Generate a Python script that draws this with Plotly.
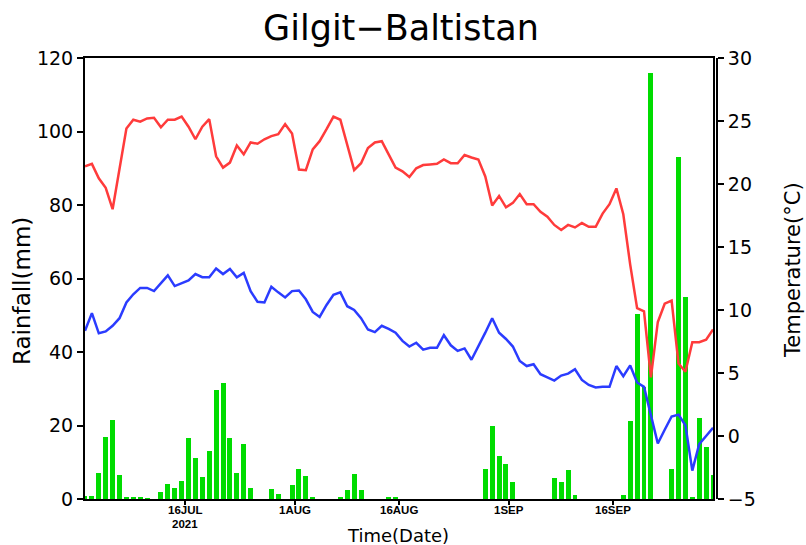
import pandas as pd
import plotly.graph_objects as go

start_date = "2021-07-01 12:00"
n_days = 92

rainfall = [0.8, 0.8, 7.0, 17.0, 21.4, 6.5, 0.3, 0.3, 0.3, 0.1,
            0.0, 1.8, 4.1, 3.0, 4.8, 16.5, 11.2, 5.9, 13.0, 29.6,
            31.6, 16.5, 7.0, 15.1, 3.0, 0.0, 0.0, 2.7, 1.4, 0.0,
            3.8, 8.3, 6.3, 0.5, 0.0, 0.0, 0.0, 0.5, 2.4, 6.7,
            2.4, 0.0, 0.0, 0.0, 0.5, 0.5, 0.0, 0.0, 0.0, 0.0,
            0.0, 0.0, 0.0, 0.0, 0.0, 0.0, 0.0, 0.0, 8.1, 20.0,
            11.8, 9.4, 4.5, 0.0, 0.0, 0.0, 0.0, 0.0, 5.6, 4.5,
            7.9, 1.2, 0.0, 0.0, 0.0, 0.0, 0.0, 0.0, 1.2, 21.1,
            50.4, 30.6, 115.8, 0.0, 0.0, 8.3, 93.0, 55.0, 0.5, 22.0,
            14.1, 6.4]

tmax = [21.4, 21.6, 20.45, 19.7, 18.0, 21.1, 24.4, 25.1, 24.95, 25.2,
        25.25, 24.5, 25.1, 25.1, 25.35, 24.55, 23.55, 24.55, 25.15, 22.2,
        21.3, 21.7, 23.05, 22.35, 23.3, 23.2, 23.55, 23.8, 23.95, 24.75,
        24.0, 21.15, 21.1, 22.75, 23.4, 24.35, 25.35, 25.1, 23.05, 21.1,
        21.65, 22.85, 23.3, 23.4, 22.35, 21.3, 21.0, 20.55, 21.25, 21.5,
        21.55, 21.6, 21.95, 21.65, 21.65, 22.3, 22.1, 21.95, 20.6, 18.3,
        19.05, 18.15, 18.5, 19.2, 18.4, 18.4, 17.8, 17.4, 16.75, 16.35,
        16.75, 16.55, 16.9, 16.6, 16.6, 17.65, 18.4, 19.65, 17.6, 13.6,
        10.15, 9.9, 4.65, 9.05, 10.5, 10.75, 5.75, 5.1, 7.45, 7.45,
        7.65, 8.45]

tmin = [8.35, 9.75, 8.15, 8.3, 8.75, 9.35, 10.6, 11.25, 11.75, 11.75,
        11.5, 12.15, 12.75, 11.9, 12.15, 12.35, 12.85, 12.6, 12.6, 13.3,
        12.85, 13.25, 12.6, 12.95, 11.5, 10.65, 10.6, 11.85, 11.4, 11.0,
        11.5, 11.55, 10.85, 9.85, 9.45, 10.4, 11.2, 11.4, 10.3, 10.0,
        9.35, 8.45, 8.25, 8.75, 8.5, 8.2, 7.55, 7.1, 7.4, 6.85,
        7.0, 7.0, 8.0, 7.2, 6.75, 6.95, 6.05, 7.1, 8.2, 9.35,
        8.2, 7.7, 7.1, 5.95, 5.55, 5.7, 4.9, 4.65, 4.4, 4.8,
        4.95, 5.3, 4.45, 4.05, 3.85, 3.9, 3.9, 5.55, 4.75, 5.6,
        4.25, 3.9, 1.75, -0.6, 0.5, 1.55, 1.7, 0.85, -2.75, -0.65,
        0.0, 0.65]

tick_dates = ["2021-07-16", "2021-08-01", "2021-08-16", "2021-09-01", "2021-09-16"]
tick_labels = ["16JUL", "1AUG", "16AUG", "1SEP", "16SEP"]
year_label = "2021"
rain_ticks = [0, 20, 40, 60, 80, 100, 120]
temp_ticks = [-5, 0, 5, 10, 15, 20, 25, 30]

dates = pd.date_range(start_date, periods=n_days, freq="D")
x_range = [dates[0], dates[-1]]

FONT = "DejaVu Sans"
W, H = 806, 545
ML, MR, MT, MB = 85, 89, 58, 46
PH = H - MT - MB


def py(px):
    """pixel y (from top) -> paper y"""
    return (H - MB - px) / PH


def px_x(px):
    """pixel x (from left) -> paper x"""
    return (px - ML) / (W - ML - MR)


fig = go.Figure()
fig.add_trace(go.Bar(x=dates, y=rainfall, marker=dict(color="#00dc00", line=dict(width=0)),
                     width=0.72 * 86400000, yaxis="y", showlegend=False))
fig.add_trace(go.Scatter(x=dates, y=tmax, mode="lines", line=dict(color="#ff3b3b", width=2.5),
                         yaxis="y2", showlegend=False))
fig.add_trace(go.Scatter(x=dates, y=tmin, mode="lines", line=dict(color="#2b3cff", width=2.5),
                         yaxis="y2", showlegend=False))

tick_font = dict(family="Liberation Sans", size=11.5, color="black", weight="bold")
for d, lab in zip(tick_dates, tick_labels):
    fig.add_annotation(x=d, xref="x", y=py(510), yref="paper", text=lab, showarrow=False,
                       xanchor="center", yanchor="middle", borderpad=0, font=tick_font)
fig.add_annotation(x=tick_dates[0], xref="x", y=py(524), yref="paper", text=year_label,
                   showarrow=False, xanchor="center", yanchor="middle", borderpad=0, font=tick_font)

title_font = dict(family=FONT, color="black")
fig.add_annotation(x=px_x(398), xref="paper", y=py(535), yref="paper", text="Time(Date)",
                   showarrow=False, xanchor="center", yanchor="middle", font=dict(size=18, **title_font))
fig.add_annotation(x=px_x(22), xref="paper", y=py(291), yref="paper", text="Rainfall(mm)",
                   textangle=-90, showarrow=False, xanchor="center", yanchor="middle",
                   font=dict(size=23, **title_font))
fig.add_annotation(x=px_x(793), xref="paper", y=py(270), yref="paper", text="Temperature(°C)",
                   textangle=-90, showarrow=False, xanchor="center", yanchor="middle",
                   font=dict(size=21, **title_font))

fig.update_layout(
    width=W, height=H,
    margin=dict(l=ML, r=MR, t=MT, b=MB, autoexpand=False),
    paper_bgcolor="white", plot_bgcolor="white",
    bargap=0,
    title=dict(text="Gilgit−Baltistan", x=0.5, xref="paper", xanchor="center",
               y=1 - 28 / H, yref="container", yanchor="middle", automargin=False,
               font=dict(family=FONT, size=35, color="black")),
    xaxis=dict(type="date", domain=[0, 0.9937], range=x_range, automargin=False,
               tickvals=tick_dates, ticktext=tick_labels, tickmode="array", showticklabels=False,
               ticks="outside", ticklen=4, tickcolor="black", tickwidth=1.5,
               showline=True, linecolor="black", linewidth=2, mirror=True,
               showgrid=False, zeroline=False),
    yaxis=dict(range=[0, 120], tickvals=rain_ticks, ticks="outside", ticklen=6, automargin=False,
               tickcolor="black", tickwidth=1.5,
               showline=True, linecolor="black", linewidth=2, mirror=True,
               showgrid=False, zeroline=False,
               tickfont=dict(family=FONT, size=19, color="black")),
    yaxis2=dict(range=[-5, 30], tickvals=temp_ticks, overlaying="y", side="right",
                anchor="free", position=1.0, automargin=False,
                ticks="outside", ticklen=6, tickcolor="black", tickwidth=1.5,
                showline=True, linecolor="black", linewidth=2,
                showgrid=False, zeroline=False,
                tickfont=dict(family=FONT, size=19, color="black")),
)

fig.write_html("out.html", config={"displayModeBar": False},
               post_script="document.body.style.margin='0px';")
